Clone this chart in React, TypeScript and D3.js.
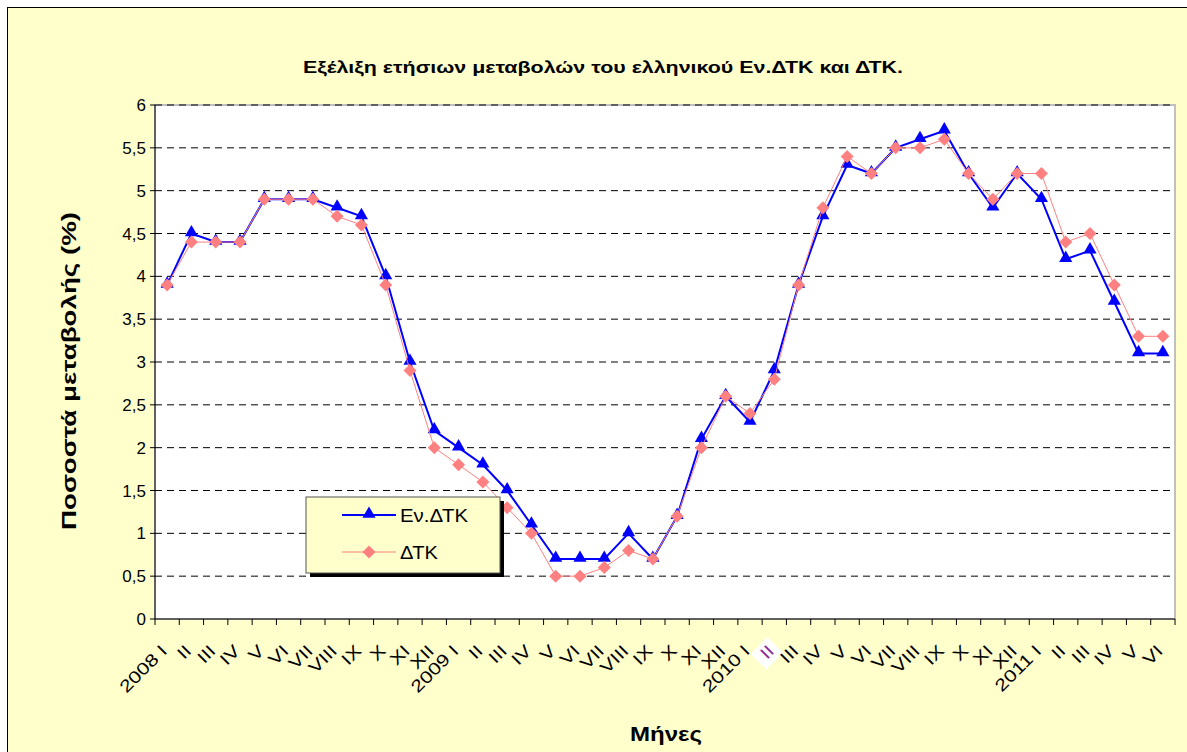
import React from "react";
import * as d3 from "d3";

const months = ["I","II","III","IV","V","VI","VII","VIII","IX","X","XI","XII"];
const years = ["2008","2009","2010","2011"];
const categories: string[] = [];
years.forEach((y) => months.forEach((m, i) => {
  if (y === "2011" && i > 5) return;
  categories.push(i === 0 ? `${y} ${m}` : m);
}));

const enDTK = [
  3.9, 4.5, 4.4, 4.4, 4.9, 4.9, 4.9, 4.8, 4.7, 4.0, 3.0, 2.2,
  2.0, 1.8, 1.5, 1.1, 0.7, 0.7, 0.7, 1.0, 0.7, 1.2, 2.1, 2.6,
  2.3, 2.9, 3.9, 4.7, 5.3, 5.2, 5.5, 5.6, 5.7, 5.2, 4.8, 5.2,
  4.9, 4.2, 4.3, 3.7, 3.1, 3.1,
];
const dTK = [
  3.9, 4.4, 4.4, 4.4, 4.9, 4.9, 4.9, 4.7, 4.6, 3.9, 2.9, 2.0,
  1.8, 1.6, 1.3, 1.0, 0.5, 0.5, 0.6, 0.8, 0.7, 1.2, 2.0, 2.6,
  2.4, 2.8, 3.9, 4.8, 5.4, 5.2, 5.5, 5.5, 5.6, 5.2, 4.9, 5.2,
  5.2, 4.4, 4.5, 3.9, 3.3, 3.3,
];
const yTicks = [0, 0.5, 1, 1.5, 2, 2.5, 3, 3.5, 4, 4.5, 5, 5.5, 6];

const W = 1187, H = 752;
const plot = { left: 155, right: 1175, top: 105, bottom: 619 };
const FONT = "Arial, 'Liberation Sans', sans-serif";

export default function App() {
  const x = d3.scaleBand<number>().domain(d3.range(categories.length)).range([plot.left, plot.right]);
  const y = d3.scaleLinear().domain([0, 6]).range([plot.bottom, plot.top]);
  const cx = (i: number) => (x(i) as number) + x.bandwidth() / 2;
  const line = d3.line<number>().x((_, i) => cx(i)).y((d) => y(d));
  const fmt = (v: number) => String(v).replace(".", ",");
  const tri = d3.symbol().type(d3.symbolTriangle).size(75)() as string;
  const dia = (s: number) => `M0,${-s}L${s},0L0,${s}L${-s},0Z`;

  return (
    <svg width={W} height={H} style={{ position: "absolute", left: 0, top: 0 }} fontFamily={FONT}>
      <rect x={0} y={0} width={W} height={H} fill="#ffffff" />
      <rect x={7.5} y={7.5} width={W + 10} height={H + 10} fill="#FFFFCC" stroke="#000" strokeWidth={1} />
      <text x={303} y={73} fontSize={16} fontWeight="bold" textLength={600} lengthAdjust="spacingAndGlyphs">
        Εξέλιξη ετήσιων μεταβολών του ελληνικού Εν.ΔΤΚ και ΔΤΚ.
      </text>
      <rect x={plot.left} y={plot.top} width={plot.right - plot.left} height={plot.bottom - plot.top}
        fill="#fff" stroke="#c0c0c0" strokeWidth={2} />
      {yTicks.filter((t) => t > 0).map((t) => (
        <line key={t} x1={plot.left} x2={plot.right} y1={y(t)} y2={y(t)}
          stroke="#000" strokeDasharray="7,5" strokeWidth={1} />
      ))}
      <line x1={plot.left} x2={plot.left} y1={plot.top} y2={plot.bottom} stroke="#000" />
      <line x1={plot.left} x2={plot.right} y1={plot.bottom} y2={plot.bottom} stroke="#000" />
      {yTicks.map((t) => (
        <g key={t}>
          <line x1={plot.left - 5} x2={plot.left} y1={y(t)} y2={y(t)} stroke="#000" />
          <text x={plot.left - 9} y={y(t) + 6} textAnchor="end" fontSize={17}>{fmt(t)}</text>
        </g>
      ))}
      {d3.range(categories.length + 1).map((i) => {
        const xx = i < categories.length ? (x(i) as number) : plot.right;
        return <line key={i} x1={xx} x2={xx} y1={plot.bottom} y2={plot.bottom + 6} stroke="#000" />;
      })}
      {categories.map((c, i) => {
        const odd = i === 25;
        return (
          <g key={i} transform={`translate(${cx(i) + 1},${plot.bottom + 33}) rotate(-45) scale(1.25,1)`}>
            {odd && <rect x={-15} y={-16} width={19} height={22} fill="#fff" />}
            <text textAnchor="end" fontSize={17} fill={odd ? "#8a2a9a" : "#000"}>{c}</text>
          </g>
        );
      })}
      <text transform={`translate(76,530) rotate(-90)`} fontSize={20} fontWeight="bold"
        textLength={318} lengthAdjust="spacingAndGlyphs">Ποσοστά μεταβολής (%)</text>
      <text x={630} y={741} fontSize={21} fontWeight="bold" textLength={72}
        lengthAdjust="spacingAndGlyphs">Μήνες</text>

      <path d={line(enDTK) as string} fill="none" stroke="#0000FF" strokeWidth={2} />
      {enDTK.map((v, i) => (
        <path key={i} d={tri} transform={`translate(${cx(i)},${y(v) - 1})`} fill="#0000FF" />
      ))}
      <path d={line(dTK) as string} fill="none" stroke="#FF8080" strokeWidth={1} />
      {dTK.map((v, i) => (
        <path key={i} d={dia(6.5)} transform={`translate(${cx(i)},${y(v)})`} fill="#FF8080" />
      ))}

      <g>
        <rect x={310} y={501} width={194} height={76} fill="#000" />
        <rect x={306} y={497} width={194} height={76} fill="#FFFFCC" stroke="#555" strokeWidth={1} />
        <line x1={342} x2={396} y1={515} y2={515} stroke="#0000FF" strokeWidth={2} />
        <path d={tri} transform={`translate(369,514)`} fill="#0000FF" />
        <text x={400} y={522} fontSize={18} textLength={68} lengthAdjust="spacingAndGlyphs">Εν.ΔΤΚ</text>
        <line x1={342} x2={396} y1={552} y2={552} stroke="#FF8080" strokeWidth={1} />
        <path d={dia(6.5)} transform={`translate(369,552)`} fill="#FF8080" />
        <text x={400} y={559} fontSize={18} textLength={38} lengthAdjust="spacingAndGlyphs">ΔΤΚ</text>
      </g>
    </svg>
  );
}
